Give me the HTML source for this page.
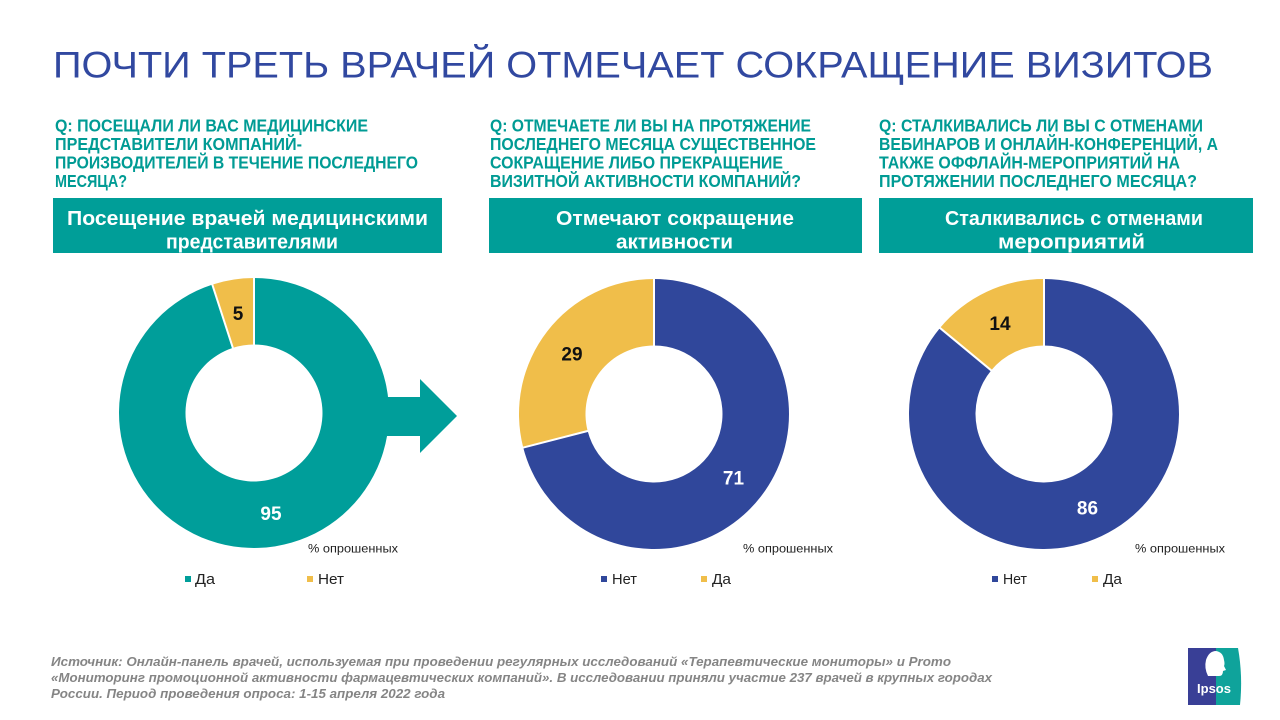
<!DOCTYPE html>
<html>
<head>
<meta charset="utf-8">
<style>
  html,body{margin:0;padding:0;background:#fff;}
  svg{display:block;}
  text{font-family:"Liberation Sans","DejaVu Sans",sans-serif;}
  .q{font-size:17.5px;font-weight:bold;fill:#009B94;}
  .bx{font-size:20px;font-weight:bold;fill:#fff;}
  .lbl{font-size:19px;font-weight:bold;}
  .pct{font-size:12px;fill:#222;}
  .lg{font-size:14.5px;fill:#222;}
  .ft{font-size:12.5px;font-weight:bold;font-style:italic;fill:#858585;}
</style>
</head>
<body>
<svg width="1280" height="720" viewBox="0 0 1280 720" xmlns="http://www.w3.org/2000/svg">
  <rect width="1280" height="720" fill="#fff"/>

  <!-- Title -->
  <text x="53" y="77.5" font-size="37" fill="#3148A0" textLength="1160" lengthAdjust="spacingAndGlyphs">ПОЧТИ ТРЕТЬ ВРАЧЕЙ ОТМЕЧАЕТ СОКРАЩЕНИЕ ВИЗИТОВ</text>

  <!-- Questions -->
  <text class="q" x="55" y="131.5" textLength="313" lengthAdjust="spacingAndGlyphs">Q: ПОСЕЩАЛИ ЛИ ВАС МЕДИЦИНСКИЕ</text>
  <text class="q" x="55" y="150" textLength="247" lengthAdjust="spacingAndGlyphs">ПРЕДСТАВИТЕЛИ КОМПАНИЙ-</text>
  <text class="q" x="55" y="168.5" textLength="363" lengthAdjust="spacingAndGlyphs">ПРОИЗВОДИТЕЛЕЙ В ТЕЧЕНИЕ ПОСЛЕДНЕГО</text>
  <text class="q" x="55" y="187" textLength="72" lengthAdjust="spacingAndGlyphs">МЕСЯЦА?</text>

  <text class="q" x="490" y="131.5" textLength="321" lengthAdjust="spacingAndGlyphs">Q: ОТМЕЧАЕТЕ ЛИ ВЫ НА ПРОТЯЖЕНИЕ</text>
  <text class="q" x="490" y="150" textLength="326" lengthAdjust="spacingAndGlyphs">ПОСЛЕДНЕГО МЕСЯЦА СУЩЕСТВЕННОЕ</text>
  <text class="q" x="490" y="168.5" textLength="293" lengthAdjust="spacingAndGlyphs">СОКРАЩЕНИЕ ЛИБО ПРЕКРАЩЕНИЕ</text>
  <text class="q" x="490" y="187" textLength="311" lengthAdjust="spacingAndGlyphs">ВИЗИТНОЙ АКТИВНОСТИ КОМПАНИЙ?</text>

  <text class="q" x="879" y="131.5" textLength="324" lengthAdjust="spacingAndGlyphs">Q: СТАЛКИВАЛИСЬ ЛИ ВЫ С ОТМЕНАМИ</text>
  <text class="q" x="879" y="150" textLength="339" lengthAdjust="spacingAndGlyphs">ВЕБИНАРОВ И ОНЛАЙН-КОНФЕРЕНЦИЙ, А</text>
  <text class="q" x="879" y="168.5" textLength="301" lengthAdjust="spacingAndGlyphs">ТАКЖЕ ОФФЛАЙН-МЕРОПРИЯТИЙ НА</text>
  <text class="q" x="879" y="187" textLength="318" lengthAdjust="spacingAndGlyphs">ПРОТЯЖЕНИИ ПОСЛЕДНЕГО МЕСЯЦА?</text>

  <!-- Header boxes -->
  <rect x="53" y="198" width="389" height="55" fill="#009E98"/>
  <rect x="489" y="198" width="373" height="55" fill="#009E98"/>
  <rect x="879" y="198" width="374" height="55" fill="#009E98"/>

  <text class="bx" x="67" y="225" textLength="361" lengthAdjust="spacingAndGlyphs">Посещение врачей медицинскими</text>
  <text class="bx" x="166" y="248.5" textLength="172" lengthAdjust="spacingAndGlyphs">представителями</text>

  <text class="bx" x="556" y="225" textLength="238" lengthAdjust="spacingAndGlyphs">Отмечают  сокращение</text>
  <text class="bx" x="616" y="248.5" textLength="117" lengthAdjust="spacingAndGlyphs">активности</text>

  <text class="bx" x="945" y="225" textLength="258" lengthAdjust="spacingAndGlyphs">Сталкивались  с отменами</text>
  <text class="bx" x="998" y="248.5" textLength="147" lengthAdjust="spacingAndGlyphs">мероприятий</text>

  <!-- Donut 1 -->
  <path d="M 254 278 A 135 135 0 1 1 212.28 284.61 L 232.83 347.85 A 68.5 68.5 0 1 0 254 344.5 Z" fill="#009E9A"/>
  <path d="M 212.28 284.61 A 135 135 0 0 1 254 278 L 254 344.5 A 68.5 68.5 0 0 0 232.83 347.85 Z" fill="#F0BE4A"/>
  <line x1="254" y1="277" x2="254" y2="345" stroke="#fff" stroke-width="2"/>
  <line x1="212" y1="283.7" x2="233" y2="348.3" stroke="#fff" stroke-width="2"/>
  <!-- Arrow -->
  <polygon points="372,397 420,397 420,379 457,416 420,453 420,436 372,436" fill="#009E9A"/>

  <text class="lbl" x="238" y="320" text-anchor="middle" fill="#111">5</text>
  <text class="lbl" x="271" y="520" text-anchor="middle" fill="#fff">95</text>

  <!-- Donut 2 -->
  <path d="M 654 279 A 135 135 0 1 1 523.24 447.57 L 587.65 431.04 A 68.5 68.5 0 1 0 654 345.5 Z" fill="#30479B"/>
  <path d="M 523.24 447.57 A 135 135 0 0 1 654 279 L 654 345.5 A 68.5 68.5 0 0 0 587.65 431.04 Z" fill="#F0BE4A"/>
  <line x1="654" y1="278" x2="654" y2="346" stroke="#fff" stroke-width="2"/>
  <line x1="522.3" y1="447.8" x2="588.1" y2="430.9" stroke="#fff" stroke-width="2"/>
  <text class="lbl" x="572" y="360.5" text-anchor="middle" fill="#111">29</text>
  <text class="lbl" x="733.5" y="484.5" text-anchor="middle" fill="#fff">71</text>

  <!-- Donut 3 -->
  <path d="M 1044 279 A 135 135 0 1 1 939.98 327.95 L 991.22 370.34 A 68.5 68.5 0 1 0 1044 345.5 Z" fill="#30479B"/>
  <path d="M 939.98 327.95 A 135 135 0 0 1 1044 279 L 1044 345.5 A 68.5 68.5 0 0 0 991.22 370.34 Z" fill="#F0BE4A"/>
  <line x1="1044" y1="278" x2="1044" y2="346" stroke="#fff" stroke-width="2"/>
  <line x1="939.2" y1="327.3" x2="991.6" y2="370.7" stroke="#fff" stroke-width="2"/>
  <text class="lbl" x="1000" y="330" text-anchor="middle" fill="#111">14</text>
  <text class="lbl" x="1087.5" y="514.5" text-anchor="middle" fill="#fff">86</text>

  <!-- % respondents -->
  <text class="pct" x="308" y="552.5" textLength="90" lengthAdjust="spacingAndGlyphs">% опрошенных</text>
  <text class="pct" x="743" y="552.5" textLength="90" lengthAdjust="spacingAndGlyphs">% опрошенных</text>
  <text class="pct" x="1135" y="552.5" textLength="90" lengthAdjust="spacingAndGlyphs">% опрошенных</text>

  <!-- Legends -->
  <rect x="185" y="576" width="6" height="6" fill="#009E9A"/>
  <text class="lg" x="195" y="584" textLength="20" lengthAdjust="spacingAndGlyphs">Да</text>
  <rect x="307" y="576" width="6" height="6" fill="#F0BE4A"/>
  <text class="lg" x="318" y="584" textLength="26" lengthAdjust="spacingAndGlyphs">Нет</text>

  <rect x="601" y="576" width="6" height="6" fill="#30479B"/>
  <text class="lg" x="612" y="584" textLength="25" lengthAdjust="spacingAndGlyphs">Нет</text>
  <rect x="701" y="576" width="6" height="6" fill="#F0BE4A"/>
  <text class="lg" x="712" y="584" textLength="19" lengthAdjust="spacingAndGlyphs">Да</text>

  <rect x="992" y="576" width="6" height="6" fill="#30479B"/>
  <text class="lg" x="1003" y="584" textLength="24" lengthAdjust="spacingAndGlyphs">Нет</text>
  <rect x="1092" y="576" width="6" height="6" fill="#F0BE4A"/>
  <text class="lg" x="1103" y="584" textLength="19" lengthAdjust="spacingAndGlyphs">Да</text>

  <!-- Footer -->
  <text class="ft" x="51" y="666" textLength="900" lengthAdjust="spacingAndGlyphs">Источник: Онлайн-панель врачей, используемая  при проведении регулярных  исследований «Терапевтические  мониторы» и Promo</text>
  <text class="ft" x="51" y="682" textLength="941" lengthAdjust="spacingAndGlyphs">«Мониторинг промоционной активности фармацевтических  компаний». В исследовании  приняли участие  237 врачей в крупных городах</text>
  <text class="ft" x="51" y="698" textLength="394" lengthAdjust="spacingAndGlyphs">России. Период  проведения  опроса: 1-15 апреля  2022 года</text>

  <!-- Ipsos logo -->
  <rect x="1188" y="648" width="30" height="57" fill="#393F96"/>
  <path d="M 1216 648 L 1238 648 Q 1243 676 1240 705 L 1216 705 Z" fill="#0FA39B"/>
  <path d="M 1208 676 Q 1204 668 1206 660 Q 1209 651 1216 651 Q 1223 652 1224 660 Q 1225 664 1224 666 L 1226 670 L 1223 671 Q 1223 676 1219 676 Z" fill="#fff"/>
  <text x="1214" y="693" font-size="13" font-weight="bold" fill="#fff" text-anchor="middle">Ipsos</text>
</svg>
</body>
</html>
